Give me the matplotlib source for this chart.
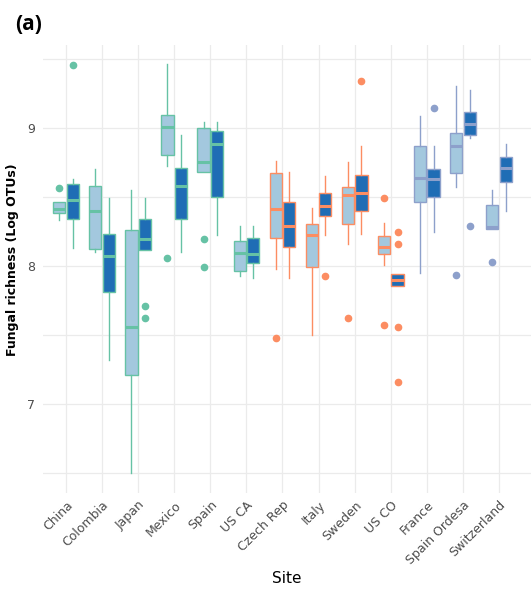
import matplotlib
matplotlib.use("Agg")
import matplotlib.pyplot as plt

# sites, in plot order
sites = ["China", "Colombia", "Japan", "Mexico", "Spain", "US CA",
         "Czech Rep", "Italy", "Sweden", "US CO",
         "France", "Spain Ordesa", "Switzerland"]
# region group per site (0 green, 1 orange, 2 purple)
groups = [0, 0, 0, 0, 0, 0, 1, 1, 1, 1, 2, 2, 2]

# light boxes: whislo, q1, med, q3, whishi
light_stats = [
    (8.33, 8.38, 8.415, 8.46, 8.46),
    (8.10, 8.12, 8.40, 8.58, 8.70),
    (6.50, 7.21, 7.56, 8.26, 8.55),
    (8.725, 8.805, 9.005, 9.09, 9.46),
    (8.68, 8.68, 8.75, 9.00, 9.04),
    (7.93, 7.96, 8.09, 8.18, 8.29),
    (7.975, 8.20, 8.41, 8.67, 8.76),
    (7.50, 7.99, 8.22, 8.305, 8.42),
    (8.16, 8.30, 8.51, 8.57, 8.75),
    (8.01, 8.085, 8.135, 8.215, 8.31),
    (7.95, 8.464, 8.634, 8.866, 9.085),
    (8.574, 8.67, 8.866, 8.963, 9.30),
    (8.27, 8.27, 8.28, 8.44, 8.55),
]
light_out = [[8.56], [], [], [8.06], [8.195, 7.99], [], [7.48], [], [7.62],
             [8.49, 7.575], [], [7.935], [8.025]]

# dark boxes
dark_stats = [
    (8.13, 8.34, 8.48, 8.59, 8.63),
    (7.32, 7.81, 8.07, 8.23, 8.49),
    (8.115, 8.115, 8.195, 8.34, 8.49),
    (8.10, 8.34, 8.58, 8.71, 8.95),
    (8.22, 8.50, 8.88, 8.976, 9.04),
    (7.915, 8.02, 8.085, 8.20, 8.29),
    (7.915, 8.135, 8.29, 8.46, 8.68),
    (8.22, 8.36, 8.43, 8.53, 8.65),
    (8.23, 8.40, 8.525, 8.66, 8.87),
    (7.855, 7.855, 7.90, 7.94, 7.94),
    (8.245, 8.50, 8.627, 8.70, 8.87),
    (8.927, 8.944, 9.025, 9.115, 9.27),
    (8.396, 8.61, 8.707, 8.79, 8.88),
]
dark_out = [[9.45], [], [7.71, 7.62], [], [], [], [], [7.925], [9.34],
            [8.245, 8.16, 7.56, 7.16], [9.14], [8.288], []]

group_cols = ["#66c2a5", "#fc8d62", "#8da0cb"]
light_fill = "#a3c8de"
dark_fill = "#1f6db5"

fig = plt.figure(figsize=(5.31, 5.92), dpi=100)
ax = fig.add_axes([43 / 531, 1 - 493 / 592, 488 / 531, 448 / 592])

# grid
for y in [6.5, 7, 7.5, 8, 8.5, 9, 9.5]:
    ax.axhline(y, color="#ebebeb", lw=0.9, zorder=0)
for i in range(len(sites)):
    ax.axvline(i, color="#ebebeb", lw=0.9, zorder=0)


def make_stats(s, outs):
    return dict(whislo=s[0], q1=s[1], med=s[2], q3=s[3], whishi=s[4], fliers=outs)


w = 0.34
off = 0.1875
for i in range(len(sites)):
    c = group_cols[groups[i]]
    for stats, outs, fill, dx in [(light_stats, light_out, light_fill, -off),
                                  (dark_stats, dark_out, dark_fill, off)]:
        ax.bxp([make_stats(stats[i], outs[i])], positions=[i + dx], widths=w,
               patch_artist=True, showcaps=False, manage_ticks=False,
               boxprops=dict(facecolor=fill, edgecolor=c, lw=1.0),
               medianprops=dict(color=c, lw=2.2),
               whiskerprops=dict(color=c, lw=1.0),
               flierprops=dict(marker="o", markerfacecolor=c, markeredgecolor=c,
                               markersize=4.5))

ax.set_xlim(-0.637, 12.887)
ax.set_ylim(6.357, 9.598)
ax.set_yticks([7, 8, 9])
ax.set_yticklabels(["7", "8", "9"])
ax.set_xticks(range(len(sites)))
ax.set_xticklabels(sites, rotation=45, ha="right", rotation_mode="anchor",
                   fontsize=9, color="#4d4d4d")
ax.tick_params(axis="x", length=0, pad=4)
ax.tick_params(axis="y", length=0, pad=6, labelsize=9, labelcolor="#4d4d4d")
for sp in ax.spines.values():
    sp.set_visible(False)

ax.set_xlabel("Site", fontsize=11, labelpad=3)
ax.set_ylabel("Fungal richness (Log OTUs)", fontsize=9, fontweight="bold")
ax.yaxis.set_label_coords(-0.05, 0.52)
fig.text(15 / 531, 1 - 24 / 592, "(a)", fontsize=15, fontweight="bold",
         family="Open Sans", va="center", ha="left")

fig.savefig("out.png", dpi=100)
